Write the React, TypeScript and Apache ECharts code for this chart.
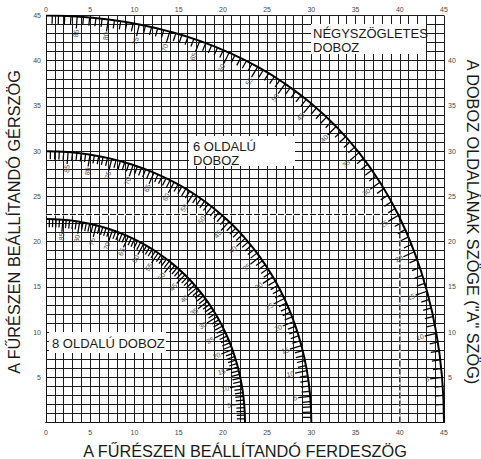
import React, { useEffect, useRef } from "react";
import * as echarts from "echarts";

// ---- data ----
const AXIS_MIN = 0;
const AXIS_MAX = 45;
const AXIS_STEP = 5;

// side tilt angle ("A" angle) in degrees, labelled every 5 degrees on each curve
const TILT_ANGLES = [0, 5, 10, 15, 20, 25, 30, 35, 40, 45, 50, 55, 60, 65, 70, 75, 80, 85, 90];

// square box (4 sides)
const SQUARE_BEVEL = [45.0, 44.78, 44.14, 43.08, 41.64, 39.86, 37.76, 35.39, 32.8, 30.0, 27.03, 23.93, 20.7, 17.39, 14.0, 10.55, 7.05, 3.53, 0];
const SQUARE_MITER = [0, 4.98, 9.85, 14.51, 18.88, 22.91, 26.57, 29.84, 32.73, 35.26, 37.45, 39.32, 40.89, 42.19, 43.22, 44.01, 44.56, 44.89, 45];

// 6-sided box
const HEX_BEVEL = [30.0, 29.87, 29.5, 28.88, 28.02, 26.95, 25.66, 24.18, 22.52, 20.7, 18.75, 16.67, 14.48, 12.2, 9.85, 7.44, 4.98, 2.5, 0];
const HEX_MITER = [0, 2.88, 5.73, 8.5, 11.17, 13.71, 16.1, 18.32, 20.36, 22.21, 23.86, 25.31, 26.57, 27.62, 28.48, 29.15, 29.62, 29.91, 30];

// 8-sided box
const OCT_BEVEL = [22.5, 22.41, 22.14, 21.69, 21.08, 20.29, 19.35, 18.27, 17.05, 15.7, 14.24, 12.68, 11.03, 9.31, 7.52, 5.68, 3.81, 1.91, 0];
const OCT_MITER = [0, 2.07, 4.11, 6.12, 8.06, 9.93, 11.7, 13.37, 14.91, 16.33, 17.6, 18.74, 19.73, 20.58, 21.27, 21.81, 22.19, 22.42, 22.5];

// dashed example reading lines
const EXAMPLE_H = [[0, 23], [39.8, 23]];
const EXAMPLE_V = [[40, 0], [40, 22.6]];

const BOX_SQUARE = ["NÉGYSZÖGLETES", "DOBOZ"];
const BOX_HEX = ["6 OLDALÚ", "DOBOZ"];
const BOX_OCT = ["8 OLDALÚ DOBOZ"];

const X_TITLE = "A FŰRÉSZEN BEÁLLÍTANDÓ FERDESZÖG";
const Y_TITLE = "A FŰRÉSZEN BEÁLLÍTANDÓ GÉRSZÖG";
const Y2_TITLE = 'A DOBOZ OLDALÁNAK SZÖGE ("A" SZÖG)';

const FONT = "'Liberation Sans', Arial, Helvetica, sans-serif";

function curvePoints(bevel: number[], miter: number[]) {
  return bevel.map((b, i) => [b, miter[i]]);
}

// one tick per whole degree along the curve (between the 5-degree readings)
function curveTicks(bevel: number[], miter: number[]) {
  const out: number[][] = [];
  for (let i = 0; i < TILT_ANGLES.length - 1; i++) {
    const step = TILT_ANGLES[i + 1] - TILT_ANGLES[i];
    for (let j = 0; j < step; j++) {
      const deg = TILT_ANGLES[i] + j;
      if (deg === 0) continue;
      const t = j / step;
      out.push([
        bevel[i] + (bevel[i + 1] - bevel[i]) * t,
        miter[i] + (miter[i + 1] - miter[i]) * t,
        deg,
      ]);
    }
  }
  return out;
}

const renderTick = (params: any, api: any) => {
  const x = api.value(0);
  const y = api.value(1);
  const deg = api.value(2);
  const p = api.coord([x, y]);
  const o = api.coord([0, 0]);
  let ux = o[0] - p[0];
  let uy = o[1] - p[1];
  const len = Math.hypot(ux, uy) || 1;
  ux /= len;
  uy /= len;
  const major = deg % 5 === 0;
  const L = major ? 12 : 8;
  const children: any[] = [
    {
      type: "line",
      shape: { x1: p[0], y1: p[1], x2: p[0] + ux * L, y2: p[1] + uy * L },
      style: { stroke: "#000", lineWidth: 1.25 },
    },
  ];
  if (major) {
    children.push({
      type: "text",
      x: p[0] + ux * (L + 1),
      y: p[1] + uy * (L + 1),
      rotation: Math.atan2(uy, -ux),
      style: {
        text: String(deg),
        align: "right",
        verticalAlign: "middle",
        fontSize: 7,
        fill: "#4a4a4a",
        fontFamily: FONT,
      },
    });
  }
  return { type: "group", children };
};

const gridLine = { show: true, lineStyle: { color: "#1c1c1c", width: 1 } };

export default function App() {
  const ref = useRef<HTMLDivElement>(null);

  useEffect(() => {
    if (!ref.current) return;
    const chart = echarts.init(ref.current, undefined, { renderer: "svg" });

    const curves = [
      { b: SQUARE_BEVEL, m: SQUARE_MITER },
      { b: HEX_BEVEL, m: HEX_MITER },
      { b: OCT_BEVEL, m: OCT_MITER },
    ];

    const series: any[] = [];
    curves.forEach((c) => {
      series.push({
        type: "custom",
        renderItem: renderTick,
        data: curveTicks(c.b, c.m),
        encode: { x: 0, y: 1 },
        z: 3,
        silent: true,
      });
      series.push({
        type: "line",
        data: curvePoints(c.b, c.m),
        smooth: true,
        showSymbol: false,
        symbol: "none",
        lineStyle: { color: "#000", width: 2 },
        z: 4,
        silent: true,
      });
    });
    [EXAMPLE_H, EXAMPLE_V].forEach((d) => {
      series.push({
        type: "line",
        data: d,
        showSymbol: false,
        symbol: "none",
        lineStyle: { color: "#fff", width: 2 },
        z: 2,
        silent: true,
      });
      series.push({
        type: "line",
        data: d,
        showSymbol: false,
        symbol: "none",
        lineStyle: { color: "#111", width: 1.2, type: [6, 2] },
        z: 2.5,
        silent: true,
      });
    });

    const labelStyle = { fontSize: 7, color: "#4a4a4a", fontFamily: FONT };

    const textEl = (text: string, x: number, y: number, extra: any = {}) => ({
      type: "text",
      x,
      y,
      z: 100,
      ...extra,
      style: {
        text,
        fontSize: 13,
        fill: "#1a1a1a",
        fontFamily: FONT,
        verticalAlign: "middle",
        align: "left",
        ...(extra.style || {}),
      },
    });

    const option: any = {
      animation: false,
      backgroundColor: "#fff",
      grid: { left: 46, right: 37, top: 15.5, bottom: 36.5, containLabel: false },
      xAxis: [
        {
          type: "value",
          min: AXIS_MIN,
          max: AXIS_MAX,
          interval: AXIS_STEP,
          position: "bottom",
          axisLine: { show: true, lineStyle: { color: "#111", width: 1 } },
          axisTick: { show: false },
          axisLabel: { ...labelStyle, margin: 6 },
          splitLine: gridLine,
          minorTick: { show: false, splitNumber: 5 },
          minorSplitLine: gridLine,
        },
        {
          type: "value",
          min: AXIS_MIN,
          max: AXIS_MAX,
          interval: AXIS_STEP,
          position: "top",
          axisLine: { show: true, lineStyle: { color: "#111", width: 1 } },
          axisTick: { show: false },
          axisLabel: { ...labelStyle, margin: 3 },
          splitLine: { show: false },
        },
      ],
      yAxis: [
        {
          type: "value",
          min: AXIS_MIN,
          max: AXIS_MAX,
          interval: AXIS_STEP,
          position: "left",
          axisLine: { show: true, lineStyle: { color: "#111", width: 1 } },
          axisTick: { show: false },
          axisLabel: {
            ...labelStyle,
            margin: 5,
            formatter: (v: number) => (v === 0 ? "" : String(v)),
          },
          splitLine: gridLine,
          minorTick: { show: false, splitNumber: 5 },
          minorSplitLine: gridLine,
        },
        {
          type: "value",
          min: AXIS_MIN,
          max: AXIS_MAX,
          interval: AXIS_STEP,
          position: "right",
          axisLine: { show: true, lineStyle: { color: "#111", width: 1 } },
          axisTick: { show: false },
          axisLabel: {
            ...labelStyle,
            margin: 4,
            formatter: (v: number) => (v === 0 || v === 45 ? "" : String(v)),
          },
          splitLine: { show: false },
        },
      ],
      series,
      graphic: {
        elements: [
          { type: "rect", z: 99, shape: { x: 311, y: 24, width: 115, height: 30 }, style: { fill: "#fff" } },
          textEl(BOX_SQUARE[0], 313, 33),
          textEl(BOX_SQUARE[1], 313, 47),
          { type: "rect", z: 99, shape: { x: 189, y: 136, width: 106, height: 30 }, style: { fill: "#fff" } },
          textEl(BOX_HEX[0], 193, 146),
          textEl(BOX_HEX[1], 193, 160),
          { type: "rect", z: 99, shape: { x: 49, y: 332, width: 117, height: 21 }, style: { fill: "#fff" } },
          textEl(BOX_OCT[0], 52, 343),
          textEl(X_TITLE, 245, 451, { style: { fontSize: 16.3, align: "center" } }),
          textEl(Y_TITLE, 14, 222, { rotation: Math.PI / 2, style: { fontSize: 16.3, align: "center" } }),
          textEl(Y2_TITLE, 473, 222, { rotation: -Math.PI / 2, style: { fontSize: 16.3, align: "center" } }),
        ],
      },
    };

    chart.setOption(option);
    return () => chart.dispose();
  }, []);

  return (
    <div
      ref={ref}
      style={{ position: "absolute", left: 0, top: 0, width: 481, height: 459, background: "#fff" }}
    />
  );
}
